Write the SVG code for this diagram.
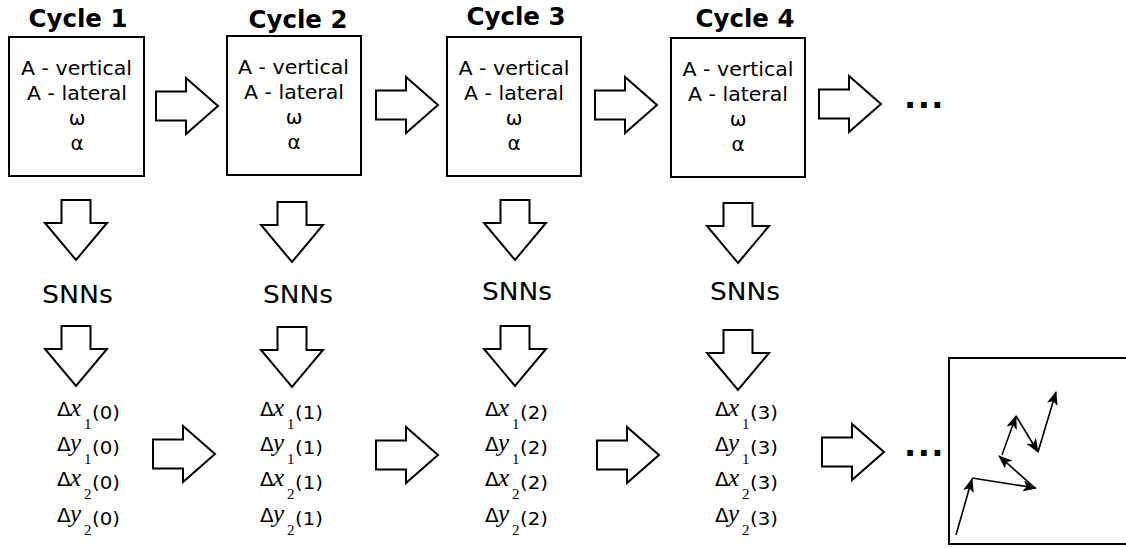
<svg xmlns="http://www.w3.org/2000/svg" width="1126" height="548" viewBox="0 0 1126 548">
  <style>
    .box { fill: #fff; stroke: #000; stroke-width: 2; }
    .title { font-family: "DejaVu Sans", sans-serif; font-weight: bold; font-size: 24px; text-anchor: middle; }
    .param { font-family: "DejaVu Sans", sans-serif; font-size: 20px; text-anchor: middle; }
    .snn { font-family: "DejaVu Sans", sans-serif; font-size: 24px; text-anchor: middle; }
    .blk { fill: #fff; stroke: #000; stroke-width: 2; stroke-linejoin: miter; }
    .dots { font-family: "DejaVu Sans", sans-serif; font-weight: bold; font-size: 32px; letter-spacing: 1.5px; }
    .d { font-family: "DejaVu Sans", sans-serif; font-size: 20px; }
    .v { font-family: "Liberation Serif", serif; font-style: italic; font-size: 25px; }
    .s { font-family: "Liberation Serif", serif; font-size: 15px; }
    .p { font-family: "DejaVu Sans", sans-serif; font-size: 18px; }
    .traj { fill: none; stroke: #000; stroke-width: 1.6; marker-end: url(#tip); }
  </style>
  <defs>
    <!-- block arrow pointing right, origin at tail centre -->
    <path id="rarrow" class="blk" d="M0,-14.5 H30 V-28 L62,0 L30,28 V14.5 H0 Z"/>
    <!-- block arrow pointing down, origin at tail centre -->
    <path id="darrow" class="blk" d="M-14.5,0 V23 H-31 L0,60 L31,23 H14.5 V0 Z"/>
    <marker id="tip" viewBox="0 0 14 11" refX="13" refY="5.5" markerWidth="14" markerHeight="11" markerUnits="userSpaceOnUse" orient="auto">
      <path d="M0,0 L14,5.5 L0,11 L3.5,5.5 Z" fill="#000"/>
    </marker>
  </defs>

  <!-- cycle parameter boxes -->
  <g id="cycle1">
    <text class="title" x="78" y="27" textLength="99" lengthAdjust="spacingAndGlyphs">Cycle 1</text>
    <rect class="box" x="9" y="37" width="135" height="139"/>
    <text class="param" x="76.5" y="75" textLength="111" lengthAdjust="spacingAndGlyphs">A - vertical</text>
    <text class="param" x="77" y="100" textLength="100" lengthAdjust="spacingAndGlyphs">A - lateral</text>
    <text class="param" x="77" y="125">ω</text>
    <text class="param" x="77" y="150">α</text>
  </g>
  <g id="cycle2">
    <text class="title" x="298" y="28" textLength="99" lengthAdjust="spacingAndGlyphs">Cycle 2</text>
    <rect class="box" x="227" y="36" width="134" height="139"/>
    <text class="param" x="293.5" y="74" textLength="111" lengthAdjust="spacingAndGlyphs">A - vertical</text>
    <text class="param" x="294" y="99" textLength="100" lengthAdjust="spacingAndGlyphs">A - lateral</text>
    <text class="param" x="294" y="124">ω</text>
    <text class="param" x="294" y="149">α</text>
  </g>
  <g id="cycle3">
    <text class="title" x="516" y="25" textLength="99" lengthAdjust="spacingAndGlyphs">Cycle 3</text>
    <rect class="box" x="447" y="37" width="134" height="139"/>
    <text class="param" x="514" y="75" textLength="111" lengthAdjust="spacingAndGlyphs">A - vertical</text>
    <text class="param" x="514" y="100" textLength="100" lengthAdjust="spacingAndGlyphs">A - lateral</text>
    <text class="param" x="514" y="125">ω</text>
    <text class="param" x="514" y="150">α</text>
  </g>
  <g id="cycle4">
    <text class="title" x="745" y="27" textLength="99" lengthAdjust="spacingAndGlyphs">Cycle 4</text>
    <rect class="box" x="671" y="38" width="134" height="139"/>
    <text class="param" x="738" y="76" textLength="111" lengthAdjust="spacingAndGlyphs">A - vertical</text>
    <text class="param" x="738" y="101" textLength="100" lengthAdjust="spacingAndGlyphs">A - lateral</text>
    <text class="param" x="738" y="126">ω</text>
    <text class="param" x="738" y="151">α</text>
  </g>

  <!-- network labels -->
  <g id="snn1"><text class="snn" x="77.5" y="303" textLength="71" lengthAdjust="spacingAndGlyphs">SNNs</text></g>
  <g id="snn2"><text class="snn" x="298" y="303" textLength="70" lengthAdjust="spacingAndGlyphs">SNNs</text></g>
  <g id="snn3"><text class="snn" x="517" y="300" textLength="70" lengthAdjust="spacingAndGlyphs">SNNs</text></g>
  <g id="snn4"><text class="snn" x="745" y="300" textLength="70" lengthAdjust="spacingAndGlyphs">SNNs</text></g>

  <!-- displacement outputs -->
  <g id="out1">
    <text><tspan class="d" x="57" y="416">Δ</tspan><tspan class="v" x="70" y="416">x</tspan><tspan class="s" x="84" y="429">1</tspan><tspan class="p" x="92" y="419" textLength="28" lengthAdjust="spacingAndGlyphs">(0)</tspan></text>
    <text><tspan class="d" x="57" y="451">Δ</tspan><tspan class="v" x="70" y="451">y</tspan><tspan class="s" x="84" y="464">1</tspan><tspan class="p" x="92" y="454" textLength="28" lengthAdjust="spacingAndGlyphs">(0)</tspan></text>
    <text><tspan class="d" x="57" y="486">Δ</tspan><tspan class="v" x="70" y="486">x</tspan><tspan class="s" x="84" y="499">2</tspan><tspan class="p" x="92" y="489" textLength="28" lengthAdjust="spacingAndGlyphs">(0)</tspan></text>
    <text><tspan class="d" x="57" y="522">Δ</tspan><tspan class="v" x="70" y="522">y</tspan><tspan class="s" x="84" y="535">2</tspan><tspan class="p" x="92" y="525" textLength="28" lengthAdjust="spacingAndGlyphs">(0)</tspan></text>
  </g>
  <g id="out2">
    <text><tspan class="d" x="260" y="416">Δ</tspan><tspan class="v" x="273" y="416">x</tspan><tspan class="s" x="287" y="429">1</tspan><tspan class="p" x="295" y="419" textLength="28" lengthAdjust="spacingAndGlyphs">(1)</tspan></text>
    <text><tspan class="d" x="260" y="451">Δ</tspan><tspan class="v" x="273" y="451">y</tspan><tspan class="s" x="287" y="464">1</tspan><tspan class="p" x="295" y="454" textLength="28" lengthAdjust="spacingAndGlyphs">(1)</tspan></text>
    <text><tspan class="d" x="260" y="486">Δ</tspan><tspan class="v" x="273" y="486">x</tspan><tspan class="s" x="287" y="499">2</tspan><tspan class="p" x="295" y="489" textLength="28" lengthAdjust="spacingAndGlyphs">(1)</tspan></text>
    <text><tspan class="d" x="260" y="522">Δ</tspan><tspan class="v" x="273" y="522">y</tspan><tspan class="s" x="287" y="535">2</tspan><tspan class="p" x="295" y="525" textLength="28" lengthAdjust="spacingAndGlyphs">(1)</tspan></text>
  </g>
  <g id="out3">
    <text><tspan class="d" x="485" y="416">Δ</tspan><tspan class="v" x="498" y="416">x</tspan><tspan class="s" x="512" y="429">1</tspan><tspan class="p" x="520" y="419" textLength="28" lengthAdjust="spacingAndGlyphs">(2)</tspan></text>
    <text><tspan class="d" x="485" y="451">Δ</tspan><tspan class="v" x="498" y="451">y</tspan><tspan class="s" x="512" y="464">1</tspan><tspan class="p" x="520" y="454" textLength="28" lengthAdjust="spacingAndGlyphs">(2)</tspan></text>
    <text><tspan class="d" x="485" y="486">Δ</tspan><tspan class="v" x="498" y="486">x</tspan><tspan class="s" x="512" y="499">2</tspan><tspan class="p" x="520" y="489" textLength="28" lengthAdjust="spacingAndGlyphs">(2)</tspan></text>
    <text><tspan class="d" x="485" y="522">Δ</tspan><tspan class="v" x="498" y="522">y</tspan><tspan class="s" x="512" y="535">2</tspan><tspan class="p" x="520" y="525" textLength="28" lengthAdjust="spacingAndGlyphs">(2)</tspan></text>
  </g>
  <g id="out4">
    <text><tspan class="d" x="715" y="416">Δ</tspan><tspan class="v" x="728" y="416">x</tspan><tspan class="s" x="742" y="429">1</tspan><tspan class="p" x="750" y="419" textLength="28" lengthAdjust="spacingAndGlyphs">(3)</tspan></text>
    <text><tspan class="d" x="715" y="451">Δ</tspan><tspan class="v" x="728" y="451">y</tspan><tspan class="s" x="742" y="464">1</tspan><tspan class="p" x="750" y="454" textLength="28" lengthAdjust="spacingAndGlyphs">(3)</tspan></text>
    <text><tspan class="d" x="715" y="486">Δ</tspan><tspan class="v" x="728" y="486">x</tspan><tspan class="s" x="742" y="499">2</tspan><tspan class="p" x="750" y="489" textLength="28" lengthAdjust="spacingAndGlyphs">(3)</tspan></text>
    <text><tspan class="d" x="715" y="522">Δ</tspan><tspan class="v" x="728" y="522">y</tspan><tspan class="s" x="742" y="535">2</tspan><tspan class="p" x="750" y="525" textLength="28" lengthAdjust="spacingAndGlyphs">(3)</tspan></text>
  </g>

  <!-- continuation marks -->
  <g id="more-top"><text class="dots" x="904" y="108">...</text></g>
  <g id="more-bottom"><text class="dots" x="904" y="456">...</text></g>

  <!-- resulting trajectory -->
  <g id="trajectory">
    <rect class="box" x="949" y="358" width="190" height="186"/>
    <path class="traj" d="M956,535 L972,479"/>
    <path class="traj" d="M972,478 L1036,488"/>
    <path class="traj" d="M1035,488 L999,456"/>
    <path class="traj" d="M1002,455 L1016,416"/>
    <path class="traj" d="M1016,416 L1038,452"/>
    <path class="traj" d="M1038,452 L1056,392"/>
  </g>

  <!-- block arrows between stages -->
  <g id="connectors">
    <use href="#rarrow" x="156" y="106"/>
    <use href="#rarrow" x="376" y="105"/>
    <use href="#rarrow" x="595" y="105"/>
    <use href="#rarrow" x="819" y="104"/>

    <use href="#darrow" x="76" y="200"/>
    <use href="#darrow" x="292" y="202"/>
    <use href="#darrow" x="515" y="200"/>
    <use href="#darrow" x="738" y="203"/>

    <use href="#darrow" x="76" y="326"/>
    <use href="#darrow" x="292" y="327"/>
    <use href="#darrow" x="515" y="326"/>
    <use href="#darrow" x="738" y="330"/>

    <use href="#rarrow" x="153" y="454"/>
    <use href="#rarrow" x="376" y="455"/>
    <use href="#rarrow" x="597" y="455"/>
    <use href="#rarrow" x="822" y="452"/>
  </g>
</svg>
